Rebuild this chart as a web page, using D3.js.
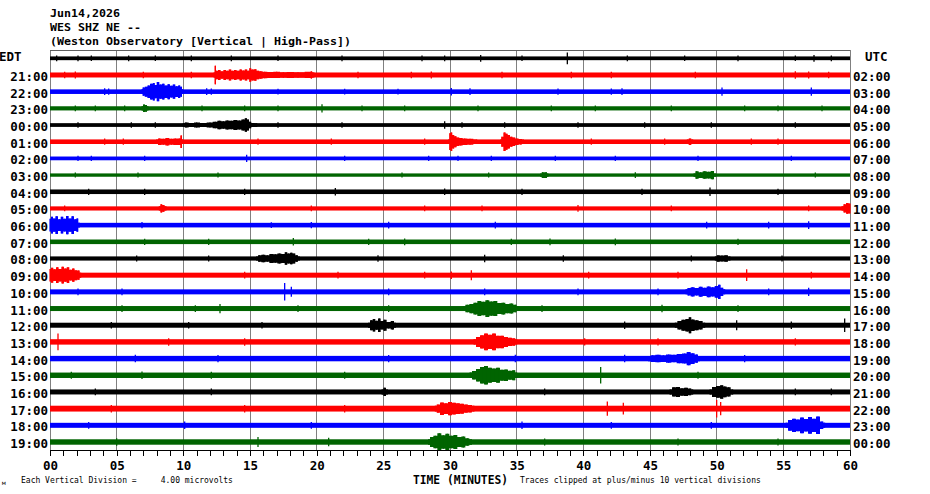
<!DOCTYPE html>
<html><head><meta charset="utf-8">
<script src="https://cdn.jsdelivr.net/npm/d3@7"></script>
<style>
html,body{margin:0;padding:0;background:#fff;}
svg{display:block;}
text{font-family:"DejaVu Sans Mono","Liberation Mono",monospace;}
</style></head>
<body>
<svg id="chart" width="930" height="494"></svg>
<script>
// ---------- DATA ----------
const headerLines = ["Jun14,2026", "WES SHZ NE --", "(Weston Observatory [Vertical | High-Pass])"];
const leftLabels = ["EDT","21:00","22:00","23:00","00:00","01:00","02:00","03:00","04:00","05:00","06:00","07:00",
  "08:00","09:00","10:00","11:00","12:00","13:00","14:00","15:00","16:00","17:00","18:00","19:00"];
const rightLabels = ["UTC","02:00","03:00","04:00","05:00","06:00","07:00","08:00","09:00","10:00","11:00","12:00",
  "13:00","14:00","15:00","16:00","17:00","18:00","19:00","20:00","21:00","22:00","23:00","00:00"];
const tickLabels = ["00","05","10","15","20","25","30","35","40","45","50","55","60"];
const gridMinutes = [5,10,15,20,25,30,35,40,45,50,55];
// background noise half-amplitude per row (microvolts)
const baseAmp = [0.45,0.6,0.55,0.5,0.45,0.55,0.45,0.4,0.55,0.5,0.55,0.55,0.5,0.6,0.6,0.6,0.6,0.65,0.65,0.65,0.6,0.7,0.6,0.65];
// bursts: [row, [[minute, half-amplitude µV], ...]]
const events = [
 [1,[[12.3,0.6],[12.4,2.2],[12.5,1.0],[12.7,1.2],[12.9,0.9],[13.1,1.2],[13.3,1.0],[13.5,1.3],[13.7,1.0],[13.9,1.2],[14.1,1.0],[14.3,1.3],[14.5,1.1],[14.7,1.3],[14.9,1.0],[15.0,1.6],[15.2,1.3],[15.4,1.4],[15.6,1.0],[15.8,0.9],[16.1,0.8],[16.5,0.7],[17.0,0.75],[17.5,0.65],[18.0,0.7],[18.6,0.65],[19.6,0.75],[19.8,0.6]]],
 [2,[[6.9,0.55],[7.0,1.0],[7.2,1.2],[7.4,1.5],[7.6,1.9],[7.8,2.1],[7.9,1.6],[8.1,2.3],[8.3,1.7],[8.5,1.9],[8.7,1.5],[8.9,1.8],[9.1,1.4],[9.3,1.7],[9.5,1.3],[9.7,1.5],[9.85,1.2],[9.95,0.55]]],
 [3,[[6.9,0.5],[7.05,0.9],[7.2,0.8],[7.35,0.5]]],
 [4,[[10.0,0.45],[10.2,0.6],[10.6,0.5],[11.0,0.6],[11.5,0.5],[12.0,0.6],[12.4,0.8],[12.7,1.0],[13.0,0.9],[13.3,1.1],[13.6,1.0],[13.9,1.2],[14.2,1.1],[14.5,1.3],[14.7,1.6],[14.85,1.3],[15.0,0.8],[15.2,0.5],[15.5,0.45]]],
 [5,[[8.0,0.55],[8.2,0.8],[8.5,0.7],[8.8,0.9],[9.1,0.7],[9.4,0.8],[9.7,0.8],[9.85,1.5],[9.95,0.55]]],
 [5,[[29.9,0.55],[30.0,2.0],[30.1,2.2],[30.25,1.6],[30.4,1.3],[30.6,1.0],[30.8,0.9],[31.1,0.8],[31.5,0.7],[32.0,0.55]]],
 [5,[[33.8,0.55],[33.9,1.2],[34.1,2.2],[34.25,1.9],[34.4,1.6],[34.6,1.2],[34.8,1.0],[35.0,0.8],[35.3,0.65],[35.5,0.55]]],
 [5,[[47.8,0.55],[48.0,0.8],[48.2,0.55]]],
 [7,[[36.8,0.4],[36.95,0.7],[37.2,0.7],[37.35,0.4]]],
 [7,[[48.3,0.4],[48.5,0.9],[48.8,0.7],[49.1,0.9],[49.4,0.8],[49.7,1.0],[49.9,0.4]]],
 [9,[[8.2,0.5],[8.35,1.0],[8.5,0.8],[8.7,0.5]]],
 [9,[[59.4,0.5],[59.6,1.0],[59.8,1.3],[60,1.2]]],
 [10,[[0,1.5],[0.15,2.0],[0.3,1.6],[0.5,2.1],[0.7,1.4],[0.9,2.0],[1.1,1.5],[1.3,2.2],[1.5,1.6],[1.7,2.1],[1.9,1.4],[2.05,1.6],[2.2,0.55]]],
 [12,[[15.5,0.5],[15.7,0.8],[16.0,0.9],[16.3,0.8],[16.6,1.1],[16.9,1.0],[17.2,1.2],[17.5,1.1],[17.7,1.5],[17.9,1.2],[18.1,1.4],[18.3,1.2],[18.5,0.8],[18.7,0.5]]],
 [12,[[49.9,0.5],[50.1,0.8],[50.4,0.7],[50.7,0.8],[51.0,0.5]]],
 [13,[[0,1.5],[0.15,1.8],[0.35,1.4],[0.55,1.9],[0.75,1.5],[0.95,2.0],[1.15,1.6],[1.35,1.9],[1.55,1.3],[1.75,1.6],[1.95,1.2],[2.15,1.1],[2.3,0.6]]],
 [14,[[47.7,0.6],[47.9,0.9],[48.2,1.1],[48.5,0.9],[48.8,1.2],[49.1,1.0],[49.4,1.3],[49.7,1.1],[50.0,1.4],[50.2,1.7],[50.4,1.0],[50.6,0.6]]],
 [15,[[31.0,0.6],[31.3,0.9],[31.6,1.1],[31.9,1.4],[32.2,1.8],[32.5,1.6],[32.8,2.0],[33.1,1.7],[33.4,1.8],[33.7,1.3],[34.0,1.4],[34.3,1.1],[34.6,1.2],[34.9,0.9],[35.1,0.6]]],
 [16,[[23.9,0.6],[24.1,1.2],[24.3,1.5],[24.5,1.1],[24.7,1.6],[24.9,1.0],[25.1,1.3],[25.4,0.8],[25.7,1.0],[25.9,0.6]]],
 [16,[[46.9,0.6],[47.2,1.0],[47.5,1.3],[47.8,1.5],[48.0,1.9],[48.2,1.4],[48.5,1.2],[48.8,1.0],[49.1,0.6]]],
 [17,[[31.8,0.65],[32.1,1.2],[32.4,1.6],[32.7,2.0],[33.0,1.7],[33.3,2.0],[33.6,1.5],[33.9,1.5],[34.2,1.2],[34.5,1.0],[34.8,0.9],[35.0,0.65]]],
 [18,[[44.9,0.65],[45.2,0.8],[45.6,0.9],[46.0,0.8],[46.4,1.0],[46.8,0.9],[47.2,1.1],[47.6,1.2],[47.9,1.6],[48.2,1.3],[48.5,1.0],[48.7,0.65]]],
 [19,[[31.5,0.65],[31.8,1.0],[32.1,1.5],[32.4,2.0],[32.7,2.2],[33.0,1.8],[33.3,1.6],[33.6,1.8],[33.9,1.3],[34.2,1.4],[34.5,1.1],[34.8,1.2],[35.0,0.65]]],
 [20,[[24.9,0.6],[25.1,1.0],[25.3,0.6]]],
 [20,[[46.5,0.6],[46.8,1.1],[47.1,1.2],[47.4,0.9],[47.7,1.0],[48.0,0.8],[48.2,0.6]]],
 [20,[[49.5,0.6],[49.8,1.2],[50.1,1.4],[50.4,1.6],[50.6,1.3],[50.9,1.1],[51.2,0.6]]],
 [21,[[28.9,0.7],[29.1,1.0],[29.4,1.5],[29.7,1.3],[30.0,1.6],[30.3,1.4],[30.6,1.3],[30.9,1.2],[31.2,1.0],[31.5,0.9],[31.8,0.7]]],
 [22,[[55.2,0.6],[55.5,1.3],[55.8,1.6],[56.1,1.4],[56.4,1.9],[56.7,1.5],[57.0,2.0],[57.3,1.6],[57.6,2.1],[57.9,0.9],[58.1,0.6]]],
 [23,[[28.4,0.65],[28.6,1.2],[28.9,1.5],[29.2,2.1],[29.5,1.6],[29.8,2.0],[30.1,1.5],[30.4,1.7],[30.7,1.2],[31.0,1.3],[31.3,0.9],[31.6,0.65]]]
];
// isolated spikes per row: [minute, half-amplitude µV]
const spikes = [
 [[0.5,0.7],[2.1,0.7],[3.1,0.65],[5.9,0.7],[7.9,0.65],[10.6,0.7],[13.6,0.7],[17.1,0.65],[21.9,0.7],[27.9,0.7],[29.6,0.7],[32.3,0.8],[35.4,0.65],[38.8,1.4],[43.3,0.7],[47.6,0.65],[51.6,0.7],[55.9,0.65],[57.3,0.8],[58.6,0.7]],
 [[1.1,0.8],[1.9,0.85],[7.0,0.8],[10.6,0.8],[19.6,0.9],[23.1,0.8],[27.1,0.8],[28.6,0.85],[33.9,0.8],[39.1,0.8],[42.1,0.8],[48.4,0.8],[55.9,0.9],[56.9,0.85],[58.4,0.8]],
 [[4.1,0.8],[4.4,0.75],[11.75,0.8],[12.1,0.75],[17.1,0.7],[22.1,0.7],[26.1,0.7],[30.1,0.9],[31.5,0.8],[38.1,0.75],[42.1,0.75],[42.9,0.8],[50.4,1.0],[57.1,1.0]],
 [[1.9,0.7],[3.4,0.7],[5.6,0.7],[11.4,0.7],[14.6,0.7],[17.1,0.7],[20.4,1.0],[23.4,0.7],[26.6,0.7],[32.1,0.7],[37.6,0.7],[40.9,0.7],[46.6,0.7],[52.1,0.7],[54.6,0.7],[57.9,0.7]],
 [[2.1,0.65],[6.1,0.65],[7.9,0.65],[17.1,0.65],[21.9,0.65],[29.6,0.9],[30.9,0.65],[34.1,0.65],[39.6,0.65],[44.6,0.65],[49.6,0.65],[55.9,0.65]],
 [[4.1,0.75],[5.5,0.75],[15.6,0.75],[21.1,0.75],[28.1,0.75],[40.6,0.75],[46.1,0.75],[52.6,0.75],[54.6,0.75]],
 [[2.1,0.65],[3.1,0.65],[7.1,0.65],[14.75,0.85],[22.1,0.65],[28.4,0.65],[30.6,0.65],[33.1,0.65],[37.9,0.65],[42.4,0.65],[48.6,0.65],[55.6,0.65]],
 [[1.9,0.6],[6.6,0.6],[12.6,0.6],[26.4,0.6],[32.9,0.6],[43.9,0.7],[57.4,0.6]],
 [[2.9,0.75],[7.1,0.75],[14.6,0.75],[21.4,0.9],[29.6,0.8],[35.4,0.75],[44.4,0.75],[49.5,1.0],[54.6,0.75]],
 [[1.1,0.7],[19.6,0.7],[28.1,0.7],[32.4,0.7],[39.6,0.8],[46.6,0.7],[56.9,0.7]],
 [[6.9,0.75],[16.6,0.7],[19.6,0.75],[25.4,0.8],[33.4,0.8],[49.25,0.8],[53.9,0.8],[56.9,0.9]],
 [[7.1,0.75],[11.9,0.75],[18.25,0.9],[23.9,0.75],[26.6,0.8],[34.6,0.75],[37.5,0.8],[42.4,0.8],[51.6,0.75]],
 [[6.5,0.7],[11.9,0.7],[24.6,0.8],[32.6,0.9],[38.5,0.8],[48.1,0.7],[54.9,0.7]],
 [[14.6,0.8],[21.6,0.8],[28.1,0.8],[30.1,0.9],[31.6,1.2],[40.4,0.8],[47.1,0.8],[52.25,1.4],[57.1,0.8]],
 [[2.1,0.8],[5.4,0.8],[17.6,2.1],[18.1,1.2],[25.4,0.8],[32.6,0.8],[39.6,0.8],[45.6,0.8],[53.9,0.8],[56.9,1.0]],
 [[5.4,0.8],[10.9,0.8],[12.75,1.1],[18.6,0.8],[25.4,0.8],[36.9,0.8],[45.9,0.9],[51.6,0.8]],
 [[4.6,0.8],[10.4,0.8],[15.9,0.8],[43.1,0.9],[51.5,1.2],[55.6,0.9],[59.6,1.6]],
 [[0.6,2.0],[8.9,0.9],[14.6,0.9],[40.1,0.85],[45.6,0.85],[55.9,0.85]],
 [[6.4,0.9],[12.6,0.85],[25.4,0.85],[34.9,0.9],[43.1,0.9],[52.1,0.85]],
 [[1.6,0.85],[6.9,0.9],[12.1,0.85],[22.1,0.85],[41.3,2.0],[48.6,0.85]],
 [[3.4,0.8],[12.1,0.8],[37.1,0.8],[55.9,0.8],[58.6,0.8]],
 [[4.6,0.9],[14.6,0.9],[22.1,0.9],[41.8,1.7],[43.0,1.4],[50.0,2.1],[50.3,1.6]],
 [[2.9,0.8],[10.1,0.9],[19.6,0.8],[35.4,0.9],[42.1,0.8],[49.6,0.8]],
 [[5.0,0.9],[15.6,1.2],[20.9,1.0],[37.1,0.85],[47.1,0.85],[54.6,0.85]]
];
const traceColors = ["#000000","#ff0000","#0000ff","#006400"];

// ---------- DRAW ----------
const svg = d3.select("#chart");
const x = d3.scaleLinear().domain([0,60]).range([50,850]);
const y = d3.scalePoint().domain(d3.range(leftLabels.length)).range([58.3,442]);
const rowStep = y.step();
const amp = d3.scaleLinear().domain([0,4]).range([0,rowStep]); // 4 µV per vertical division

// header
svg.selectAll("text.hdr").data(headerLines).join("text")
  .attr("class","hdr").attr("x",50).attr("y",(d,i)=>[17,31,45][i])
  .attr("font-size",11).attr("font-weight","bold")
  .attr("textLength",(d,i)=>[70,91,301][i]).attr("lengthAdjust","spacingAndGlyphs")
  .text(d=>d);

// grid and frame
const gridG = svg.append("g");
gridG.selectAll("line.grid").data(gridMinutes).join("line")
  .attr("x1",d=>x(d)).attr("x2",d=>x(d)).attr("y1",50).attr("y2",450)
  .attr("stroke","#808080").attr("stroke-width",1).attr("shape-rendering","crispEdges");
gridG.append("line").attr("x1",x(0)).attr("x2",x(0)).attr("y1",50).attr("y2",450).attr("stroke","#808080").attr("shape-rendering","crispEdges");
gridG.append("line").attr("x1",x(60)).attr("x2",x(60)).attr("y1",50).attr("y2",450).attr("stroke","#808080").attr("shape-rendering","crispEdges");
gridG.append("line").attr("x1",x(0)).attr("x2",x(60)).attr("y1",50).attr("y2",50).attr("stroke","#606060").attr("shape-rendering","crispEdges");

// traces
const tr = svg.append("g");
const color = i => traceColors[i % traceColors.length];
// base noise band
tr.selectAll("rect.band").data(baseAmp).join("rect")
  .attr("x",x(0)).attr("width",x(60)-x(0))
  .attr("y",(d,i)=>y(i)-amp(d)).attr("height",d=>2*amp(d))
  .attr("fill",(d,i)=>color(i));
// bursts (stepped envelope)
const area = d3.area().x(d=>x(d[0])).curve(d3.curveStep);
tr.selectAll("path.ev").data(events).join("path")
  .attr("d",e=>area.y0(d=>y(e[0])-amp(d[1])).y1(d=>y(e[0])+amp(d[1]))(e[1]))
  .attr("fill",e=>color(e[0]));
// burst samples as thin strokes for jagged look
events.forEach(e=>{
  tr.selectAll(null).data(e[1]).join("line")
    .attr("x1",d=>x(d[0])).attr("x2",d=>x(d[0]))
    .attr("y1",d=>y(e[0])-amp(d[1])).attr("y2",d=>y(e[0])+amp(d[1]))
    .attr("stroke",color(e[0])).attr("stroke-width",1.2);
});
// spikes
spikes.forEach((row,i)=>{
  tr.selectAll(null).data(row).join("line")
    .attr("x1",d=>x(d[0])).attr("x2",d=>x(d[0]))
    .attr("y1",d=>y(i)-amp(d[1])).attr("y2",d=>y(i)+amp(d[1]))
    .attr("stroke",color(i)).attr("stroke-width",1.3);
});

// row labels
svg.selectAll("text.ll").data(leftLabels).join("text")
  .attr("class","ll")
  .attr("x",(d,i)=>i===0?-1:48).attr("y",(d,i)=>y(i)+(i===0?3:6))
  .attr("text-anchor",(d,i)=>i===0?"start":"end")
  .attr("font-size",12.5).attr("font-weight","bold").text(d=>d);
svg.selectAll("text.rl").data(rightLabels).join("text")
  .attr("class","rl")
  .attr("x",(d,i)=>i===0?865:853).attr("y",(d,i)=>y(i)+(i===0?3:6))
  .attr("font-size",12.5).attr("font-weight","bold").text(d=>d);

// bottom axis
const minuteTicks = d3.range(0,61);
const axis = d3.axisBottom(x).tickValues(minuteTicks).tickSize(6).tickSizeOuter(0)
  .tickFormat(d => d % 5 === 0 ? tickLabels[d/5] : "");
const ax = svg.append("g").attr("transform","translate(0,450)").call(axis);
ax.select(".domain").attr("stroke","#000").attr("shape-rendering","crispEdges");
ax.selectAll(".tick line").attr("stroke","#000").attr("shape-rendering","crispEdges");
ax.selectAll(".tick text").attr("y",11).attr("fill","#000")
  .attr("font-family","'DejaVu Sans Mono',monospace").attr("font-weight","bold").attr("font-size",12.5);

// footer texts
svg.append("text").attr("x",413).attr("y",484).attr("font-size",11.5).attr("font-weight","bold")
  .attr("textLength",95).attr("lengthAdjust","spacingAndGlyphs").text("TIME (MINUTES)");
svg.append("text").attr("x",520).attr("y",483).attr("font-size",8)
  .text("Traces clipped at plus/minus 10 vertical divisions");
svg.append("text").attr("x",21).attr("y",483).attr("font-size",8).style("white-space","pre")
  .text("Each Vertical Division =     4.00 microvolts");
svg.append("text").attr("x",2).attr("y",485).attr("font-size",6).text("м");
</script>
</body></html>
